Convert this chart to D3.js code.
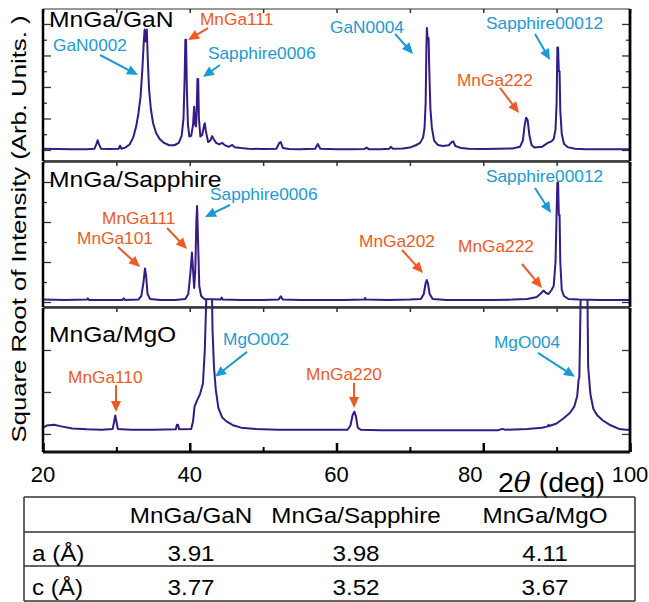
<!DOCTYPE html>
<html>
<head>
<meta charset="utf-8">
<script src="https://cdn.jsdelivr.net/npm/d3@7"></script>
<style>
body { margin: 0; background: #fff; }
svg { display: block; font-family: "Liberation Sans", Arial, sans-serif; }
</style>
</head>
<body>
<div id="chart"></div>
<script>
// ---- data ----
const samples = ["MnGa/GaN", "MnGa/Sapphire", "MnGa/MgO"]

// [2theta (deg), sqrt intensity (tick units)]
const scanGaN = [
    [20, 0.08], [22, 0.06], [24, 0.05], [26, 0.05], [27.0, 0.07], [27.3, 0.4], [27.45, 0.62], [27.6, 0.4], [27.9, 0.08],
    [29, 0.06], [30.3, 0.08], [30.5, 0.27], [30.7, 0.08], [31.2, 0.15], [31.8, 0.35], [32.3, 0.8], [32.7, 1.5],
    [33.0, 2.3], [33.3, 3.4], [33.55, 5.2], [33.75, 7.0], [33.85, 7.65], [33.95, 6.9], [34.05, 6.9], [34.15, 7.65],
    [34.3, 5.5], [34.45, 3.9], [34.7, 2.6], [35.0, 1.7], [35.4, 1.1], [35.9, 0.7], [36.5, 0.45], [37.2, 0.3],
    [37.9, 0.3], [38.5, 0.45], [38.9, 0.9], [39.15, 2.0], [39.3, 4.5], [39.4, 7.0], [39.5, 7.0], [39.6, 4.0],
    [39.75, 1.6], [39.95, 0.85], [40.2, 0.9], [40.45, 1.6], [40.6, 2.75], [40.75, 1.6], [40.85, 1.5], [40.95, 2.5],
    [41.05, 4.5], [41.15, 4.5], [41.25, 2.0], [41.45, 0.85], [41.7, 0.95], [41.95, 1.55], [42.05, 1.7], [42.2, 1.2],
    [42.5, 0.5], [42.8, 0.6], [43.05, 0.88], [43.25, 0.7], [43.6, 0.45], [44.0, 0.35], [44.45, 0.45], [44.7, 0.32],
    [45.3, 0.2], [45.8, 0.32], [46.1, 0.18], [47, 0.12], [48, 0.08], [50, 0.06], [51.8, 0.08], [52.2, 0.45],
    [52.4, 0.5], [52.7, 0.12], [53.5, 0.06], [55, 0.05], [57.1, 0.08], [57.45, 0.38], [57.8, 0.08], [60, 0.05],
    [62, 0.04], [63.8, 0.06], [64.1, 0.15], [64.4, 0.05], [66, 0.05], [67.2, 0.08], [67.4, 0.2], [67.7, 0.07],
    [69, 0.1], [70, 0.15], [70.8, 0.3], [71.4, 0.45], [71.8, 0.8], [72.0, 1.4], [72.15, 3.0], [72.25, 6.5],
    [72.32, 7.75], [72.42, 7.0], [72.55, 7.1], [72.65, 5.0], [72.8, 2.6], [73.0, 1.4], [73.3, 0.6], [73.8, 0.32],
    [74.5, 0.25], [75.3, 0.3], [75.7, 0.5], [75.9, 0.55], [76.2, 0.25], [77, 0.12], [78, 0.08], [80, 0.06],
    [82, 0.07], [84, 0.1], [85.0, 0.2], [85.4, 0.6], [85.65, 1.6], [85.85, 2.05], [86.05, 1.9], [86.3, 0.9],
    [86.6, 0.3], [87.0, 0.15], [88, 0.2], [88.8, 0.45], [89.3, 0.55], [89.6, 0.7], [89.85, 1.3], [90.0, 3.0],
    [90.1, 6.5], [90.2, 6.5], [90.3, 5.0], [90.4, 5.0], [90.5, 2.5], [90.7, 1.0], [91.0, 0.4], [91.5, 0.18],
    [92.5, 0.08], [94, 0.05], [96, 0.05], [98, 0.05], [100, 0.05]
]

const scanSapphire = [
    [20, 0.12], [23, 0.1], [26, 0.12], [26.1, 0.18], [26.3, 0.1], [28, 0.1], [30.8, 0.1], [31.0, 0.18], [31.2, 0.1],
    [33.0, 0.12], [33.4, 0.3], [33.7, 1.0], [33.9, 1.68], [34.05, 1.3], [34.25, 0.4], [34.6, 0.15], [36, 0.1],
    [38, 0.1], [39.4, 0.15], [39.8, 0.4], [40.1, 1.5], [40.3, 2.47], [40.45, 1.6], [40.6, 0.7], [40.75, 1.5],
    [40.9, 4.0], [41.0, 4.8], [41.1, 3.5], [41.3, 0.8], [41.55, 0.3], [42, 0.15], [44.2, 0.12], [44.35, 0.22],
    [44.5, 0.12], [47, 0.1], [50, 0.1], [52.1, 0.12], [52.4, 0.28], [52.7, 0.12], [55, 0.1], [58, 0.1], [61, 0.1],
    [63.8, 0.12], [63.9, 0.2], [64.0, 0.12], [67, 0.1], [70, 0.12], [71.5, 0.15], [71.9, 0.4], [72.15, 0.95],
    [72.3, 1.1], [72.45, 0.95], [72.7, 0.4], [73.1, 0.15], [75, 0.1], [78, 0.1], [81, 0.1], [84, 0.12], [86, 0.15],
    [87.3, 0.25], [87.9, 0.45], [88.25, 0.57], [88.55, 0.45], [88.9, 0.4], [89.3, 0.6], [89.6, 0.8], [89.85, 2.0],
    [90.0, 4.5], [90.1, 5.97], [90.2, 5.97], [90.3, 4.35], [90.4, 4.35], [90.5, 2.0], [90.7, 0.6], [91.0, 0.3],
    [91.6, 0.15], [93, 0.12], [96, 0.1], [100, 0.1]
]

const scanMgO = [
    [20, 0.15], [20.5, 0.2], [21.5, 0.22], [22.5, 0.18], [24, 0.13], [26, 0.11], [28, 0.1], [29.5, 0.12], [29.7, 0.3],
    [29.85, 0.44], [30.0, 0.3], [30.2, 0.12], [32, 0.1], [35, 0.1], [38.1, 0.11], [38.25, 0.22], [38.4, 0.22],
    [38.55, 0.11], [40.2, 0.12], [40.45, 0.3], [40.65, 0.65], [41.0, 0.8], [41.4, 0.95], [41.8, 1.2], [42.05, 2.0],
    [42.25, 3.2], [42.45, 5], [42.9, 5], [43.1, 2.5], [43.3, 1.6], [43.55, 1.05], [43.9, 0.62], [44.4, 0.4],
    [45.0, 0.3], [46, 0.2], [47, 0.15], [49, 0.12], [52, 0.1], [55, 0.1], [58, 0.1], [61.5, 0.1], [61.9, 0.2],
    [62.2, 0.45], [62.43, 0.53], [62.65, 0.42], [62.9, 0.15], [63.3, 0.1], [66, 0.09], [70, 0.09], [74, 0.09],
    [78, 0.09], [82, 0.09], [82.6, 0.12], [83, 0.1], [86, 0.12], [88, 0.15], [88.8, 0.18], [88.9, 0.22], [89.0, 0.19],
    [90, 0.25], [91.0, 0.38], [91.8, 0.5], [92.4, 0.65], [92.8, 0.9], [93.0, 1.3], [93.1, 1.35], [93.3, 3.5],
    [93.45, 5], [94.1, 5], [94.3, 1.6], [94.6, 0.95], [95.0, 0.6], [95.5, 0.45], [96.3, 0.32], [97.2, 0.22],
    [98.5, 0.12], [99.5, 0.1], [100, 0.1]
]

const scans = [scanGaN, scanSapphire, scanMgO]

// peak labels: panel index, text, film/substrate, arrow tip [2theta, value]
const peakLabels = [
    {panel: 0, text: "GaN0002", kind: "sub", tip: [32.95, 4.76]},
    {panel: 0, text: "MnGa111", kind: "film", tip: [39.76, 6.98]},
    {panel: 0, text: "Sapphire0006", kind: "sub", tip: [41.8, 4.63]},
    {panel: 0, text: "GaN0004", kind: "sub", tip: [70.43, 6.1]},
    {panel: 0, text: "Sapphire00012", kind: "sub", tip: [89.1, 5.71]},
    {panel: 0, text: "MnGa222", kind: "film", tip: [84.87, 2.35]},
    {panel: 1, text: "Sapphire0006", kind: "sub", tip: [42.08, 4.25]},
    {panel: 1, text: "MnGa111", kind: "film", tip: [39.63, 2.65]},
    {panel: 1, text: "MnGa101", kind: "film", tip: [33.22, 1.75]},
    {panel: 1, text: "Sapphire00012", kind: "sub", tip: [89.23, 4.45]},
    {panel: 1, text: "MnGa202", kind: "film", tip: [71.79, 1.45]},
    {panel: 1, text: "MnGa222", kind: "film", tip: [88.01, 0.7]},
    {panel: 2, text: "MgO002", kind: "sub", tip: [43.44, 1.36]},
    {panel: 2, text: "MnGa110", kind: "film", tip: [29.95, 0.52]},
    {panel: 2, text: "MnGa220", kind: "film", tip: [62.39, 0.62]},
    {panel: 2, text: "MgO004", kind: "sub", tip: [92.5, 1.36]}
]

const xTicks = [20, 40, 60, 80, 100]
const xMinorTicks = [30, 50, 70, 90]

const latticeRows = ["a (Å)", "c (Å)"]
const aValues = [3.91, 3.98, 4.11]
const cValues = [3.77, 3.52, 3.67]

// ---- layout ----
const dims = {width: 649, height: 602, left: 43, right: 630}

const panelBox = [
    {top: 9, bottom: 161, domain: [-0.7, 8.95], ticks: d3.range(0, 9), major: v => v % 2 === 0},
    {top: 162, bottom: 307, domain: [-0.25, 7.0], ticks: d3.range(0, 7), major: v => v % 2 === 0},
    {top: 308, bottom: 452, domain: [-0.43, 3.0], ticks: [0, 1, 2], major: v => true}
]

// [tail dx, tail dy, text dx, text dy] relative to the arrow tip, same order as peakLabels
const labelOffsets = [
    [-38, -20, -85, -24], [20, -12, 12, -15], [17, -12, 5, -18], [-18, -20, -83, -21], [-15, -26, -64, -31],
    [-19, -25, -62, -27], [25, -12, 5, -17], [-20, -21, -85, -25], [-22, -20, -63, -23], [-16, -25, -65, -31],
    [-21, -23, -64, -26], [-20, -24, -84, -36], [32, -25, 8, -32], [0, -27, -48, -29], [0, -25, -48, -28],
    [-37, -24, -81, -29]
]

const colors = {line: "#361a85", sub: "#1b9ad6", film: "#ef5a24"}
const stretch = 1.1

const svg = d3.select("#chart")
    .append("svg")
    .attr("width", dims.width)
    .attr("height", dims.height)

const xScale = d3.scaleLinear()
    .domain([20, 100])
    .range([dims.left, dims.right])

const defs = svg.append("defs")

panelBox.forEach((p, i) => {
    const yScale = d3.scaleLinear().domain(p.domain).range([p.bottom, p.top])
    p.y = yScale

    const g = svg.append("g").attr("class", "panel")

    // clip (peaks may poke a little above the frame)
    defs.append("clipPath").attr("id", "clip" + i)
        .append("rect")
        .attr("x", dims.left)
        .attr("y", p.top - (i === 2 ? 9 : 0))
        .attr("width", dims.right - dims.left)
        .attr("height", p.bottom - p.top + (i === 2 ? 9 : 0))

    // y ticks, left and right, pointing inward
    const majors = p.ticks.filter(p.major)
    const minors = p.ticks.filter(v => !p.major(v))
    ;[[majors, 8], [minors, 4]].forEach(([vals, len]) => {
        g.append("g")
            .attr("transform", `translate(${dims.left},0)`)
            .call(d3.axisRight(yScale).tickValues(vals).tickSize(len).tickFormat(""))
            .call(a => a.select(".domain").remove())
            .call(a => a.selectAll("text").remove())
            .selectAll("line").attr("stroke", "#333").attr("stroke-width", 1.3)
        g.append("g")
            .attr("transform", `translate(${dims.right},0)`)
            .call(d3.axisLeft(yScale).tickValues(vals).tickSize(len).tickFormat(""))
            .call(a => a.select(".domain").remove())
            .call(a => a.selectAll("text").remove())
            .selectAll("line").attr("stroke", "#333").attr("stroke-width", 1.3)
    })

    // top ticks
    g.append("g")
        .attr("transform", `translate(0,${p.top})`)
        .call(d3.axisBottom(xScale).tickValues(xTicks.concat(xMinorTicks)).tickSize(4).tickFormat(""))
        .call(a => a.select(".domain").remove())
        .call(a => a.selectAll("text").remove())
        .selectAll("line").attr("stroke", "#333").attr("stroke-width", 1.5)

    // scan
    const line = d3.line()
        .x(d => xScale(d[0]))
        .y(d => yScale(d[1]))

    g.append("path")
        .datum(scans[i])
        .attr("clip-path", `url(#clip${i})`)
        .attr("d", line)
        .attr("fill", "none")
        .attr("stroke", colors.line)
        .attr("stroke-width", 2)
        .attr("stroke-linejoin", "round")

    // frame
    g.append("line").attr("x1", dims.left).attr("x2", dims.right).attr("y1", p.top).attr("y2", p.top)
        .attr("stroke", "#333").attr("stroke-width", i === 0 ? 1 : 1.5)
    g.append("line").attr("x1", dims.left).attr("x2", dims.right).attr("y1", p.bottom).attr("y2", p.bottom)
        .attr("stroke", "#111").attr("stroke-width", i === 2 ? 2.8 : 1.5)
    g.append("line").attr("x1", dims.left).attr("x2", dims.left).attr("y1", p.top).attr("y2", p.bottom)
        .attr("stroke", "#000").attr("stroke-width", 2.5)
    g.append("line").attr("x1", dims.right).attr("x2", dims.right).attr("y1", p.top).attr("y2", p.bottom)
        .attr("stroke", "#000").attr("stroke-width", 2.8)

    // sample name
    g.append("text")
        .attr("transform", `translate(${dims.left + 6},${p.top + [18, 25, 34][i]}) scale(${stretch + 0.02},1)`)
        .attr("font-size", "22px")
        .attr("fill", "#000")
        .text(samples[i])
})

// bottom x axis (panel 3)
const bottom = panelBox[2].bottom
svg.append("g")
    .attr("transform", `translate(0,${bottom})`)
    .call(d3.axisBottom(xScale).tickValues(xMinorTicks).tickSize(-5).tickFormat(""))
    .call(a => a.select(".domain").remove())
    .call(a => a.selectAll("text").remove())
    .selectAll("line").attr("stroke", "#000").attr("stroke-width", 2)

svg.append("g")
    .attr("transform", `translate(0,${bottom})`)
    .call(d3.axisBottom(xScale).tickValues(xTicks).tickSize(-9).tickFormat(""))
    .call(a => a.select(".domain").remove())
    .call(a => a.selectAll("text").remove())
    .selectAll("line").attr("stroke", "#000").attr("stroke-width", 2.5)

// x label
const xLabel = svg.append("text")
    .attr("transform", `translate(498,492) scale(1.05,1)`)
    .attr("font-size", "27px")
    .attr("fill", "#000")
xLabel.append("tspan").text("2")
xLabel.append("tspan").attr("font-style", "italic").attr("font-family", "'DejaVu Serif', serif").text("θ")
xLabel.append("tspan").text(" (deg)")

// y label
svg.append("text")
    .attr("transform", "translate(26,229) rotate(-90)")
    .attr("text-anchor", "middle")
    .attr("font-size", "20px")
    .attr("textLength", 427)
    .attr("lengthAdjust", "spacingAndGlyphs")
    .attr("fill", "#000")
    .text("Square Root of Intensity (Arb. Units. )")

// peak labels with arrows
peakLabels.forEach((d, k) => {
    const p = panelBox[d.panel]
    const [tdx, tdy, lx, ly] = labelOffsets[k]
    const tx = xScale(d.tip[0]), ty = p.y(d.tip[1])
    const sx = tx + tdx, sy = ty + tdy
    const c = colors[d.kind]
    const len = Math.hypot(tx - sx, ty - sy)
    const ux = (tx - sx) / len, uy = (ty - sy) / len
    const headLen = 11, headW = 5
    const bx = tx - ux * headLen, by = ty - uy * headLen

    svg.append("line")
        .attr("x1", sx).attr("y1", sy)
        .attr("x2", bx + ux).attr("y2", by + uy)
        .attr("stroke", c)
        .attr("stroke-width", 2)

    svg.append("path")
        .attr("d", `M${tx},${ty}L${bx - uy * headW},${by + ux * headW}L${bx + uy * headW},${by - ux * headW}Z`)
        .attr("fill", c)

    svg.append("text")
        .attr("transform", `translate(${tx + lx},${ty + ly}) scale(1.08,1)`)
        .attr("font-size", "16px")
        .attr("fill", c)
        .text(d.text)
})

// lattice table
const table = {left: 24, right: 635, rows: [497, 532, 566, 601], cols: [191, 356, 545]}
const tg = svg.append("g")

tg.selectAll("line.h")
    .data(table.rows)
    .join("line")
    .attr("x1", table.left).attr("x2", table.right)
    .attr("y1", d => d).attr("y2", d => d)
    .attr("stroke", "#333").attr("stroke-width", 1.5)

;[table.left, table.right].forEach(x => {
    tg.append("line")
        .attr("x1", x).attr("x2", x)
        .attr("y1", table.rows[0]).attr("y2", table.rows[3])
        .attr("stroke", "#333").attr("stroke-width", 1.5)
})

samples.forEach((s, j) => {
    tg.append("text")
        .attr("transform", `translate(${table.cols[j]},523) scale(${stretch},1)`)
        .attr("text-anchor", "middle")
        .attr("font-size", "22px")
        .text(s)
})

;[aValues, cValues].forEach((vals, r) => {
    const base = [561, 595][r]
    tg.append("text")
        .attr("transform", `translate(32,${base}) scale(${stretch},1)`)
        .attr("font-size", "22px")
        .text(latticeRows[r])
    vals.forEach((v, j) => {
        tg.append("text")
            .attr("transform", `translate(${table.cols[j]},${base}) scale(${stretch},1)`)
            .attr("text-anchor", "middle")
            .attr("font-size", "22px")
            .text(v.toFixed(2))
    })
})

// x tick labels ("80" sits left of its tick, next to the axis title)
xTicks.forEach(t => {
    svg.append("text")
        .attr("class", "x-tick-label")
        .attr("x", xScale(t) + (t === 80 ? -13 : 0))
        .attr("y", bottom + 30)
        .attr("text-anchor", "middle")
        .attr("font-size", "22px")
        .attr("fill", "#000")
        .text(String(t))
})
</script>
</body>
</html>
